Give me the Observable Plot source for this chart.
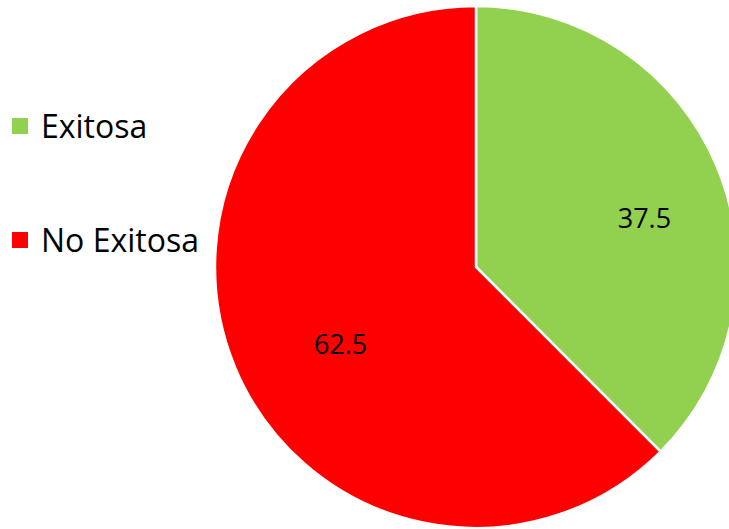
<!DOCTYPE html>
<html>
<head>
<meta charset="utf-8">
<script src="https://cdn.jsdelivr.net/npm/d3@7"></script>
<script src="https://cdn.jsdelivr.net/npm/@observablehq/plot@0.6"></script>
<style>
  html, body { margin: 0; padding: 0; background: #fff; }
  #wrap { position: relative; width: 729px; height: 529px; overflow: hidden; font-family: "Open Sans", Lato, sans-serif; }
  #legend { position: absolute; left: 12px; top: 0; }
  .item { position: absolute; left: 0; white-space: nowrap; display: flex; align-items: center; font-size: 32px; line-height: 40px; color: #000; }
  .sw { width: 16px; height: 16px; margin-right: 13px; flex: none; }
</style>
</head>
<body>
<div id="wrap"><div id="legend"></div></div>
<script>
const categories = ["Exitosa", "No Exitosa"];
const values = [37.5, 62.5];
const labels = ["37.5", "62.5"];
const colors = ["#92D050", "#FF0000"];

const data = categories.map((c, i) => ({category: c, value: values[i], label: labels[i]}));
const pie = d3.pie().sort(null).value(d => d.value)(data);
const labelArc = d3.arc().innerRadius(0.63).outerRadius(0.63);
const labelData = pie.map(a => {
  const [cx, cy] = labelArc.centroid(a);
  return {x: cx, y: cy, label: a.data.label};
});

const color = d3.scaleOrdinal(categories, colors);

const slices = (index, scales, values, dimensions) => {
  const cx = scales.x(0), cy = scales.y(0);
  const r = scales.x(1) - scales.x(0);
  const arc = d3.arc().innerRadius(0).outerRadius(r);
  const g = d3.create("svg:g").attr("transform", `translate(${cx},${cy})`);
  g.selectAll("path").data(pie).join("path")
    .attr("d", arc)
    .attr("fill", d => color(d.data.category))
    .attr("stroke", "#fff")
    .attr("stroke-width", 2.5)
    .attr("stroke-linejoin", "miter");
  return g.node();
};

const chart = Plot.plot({
  width: 729,
  height: 529,
  margin: 0,
  x: {domain: [-1, 1], range: [215, 737], axis: null},
  y: {domain: [-1, 1], range: [6, 528], axis: null},
  style: {background: "transparent", overflow: "visible"},
  marks: [
    slices,
    Plot.text(labelData, {x: "x", y: "y", text: "label", dx: 16, dy: 15, fontSize: 27, fill: "#000", fontFamily: "'Open Sans', Lato, sans-serif"})
  ]
});

const wrap = document.getElementById("wrap");
wrap.insertBefore(chart, wrap.firstChild);

const legend = d3.select("#legend");
const tops = [106, 220];
categories.forEach((c, i) => {
  const it = legend.append("div").attr("class", "item").style("top", tops[i] + "px");
  it.append("div").attr("class", "sw").style("background", color(c));
  it.append("span").text(c);
});
</script>
</body>
</html>
